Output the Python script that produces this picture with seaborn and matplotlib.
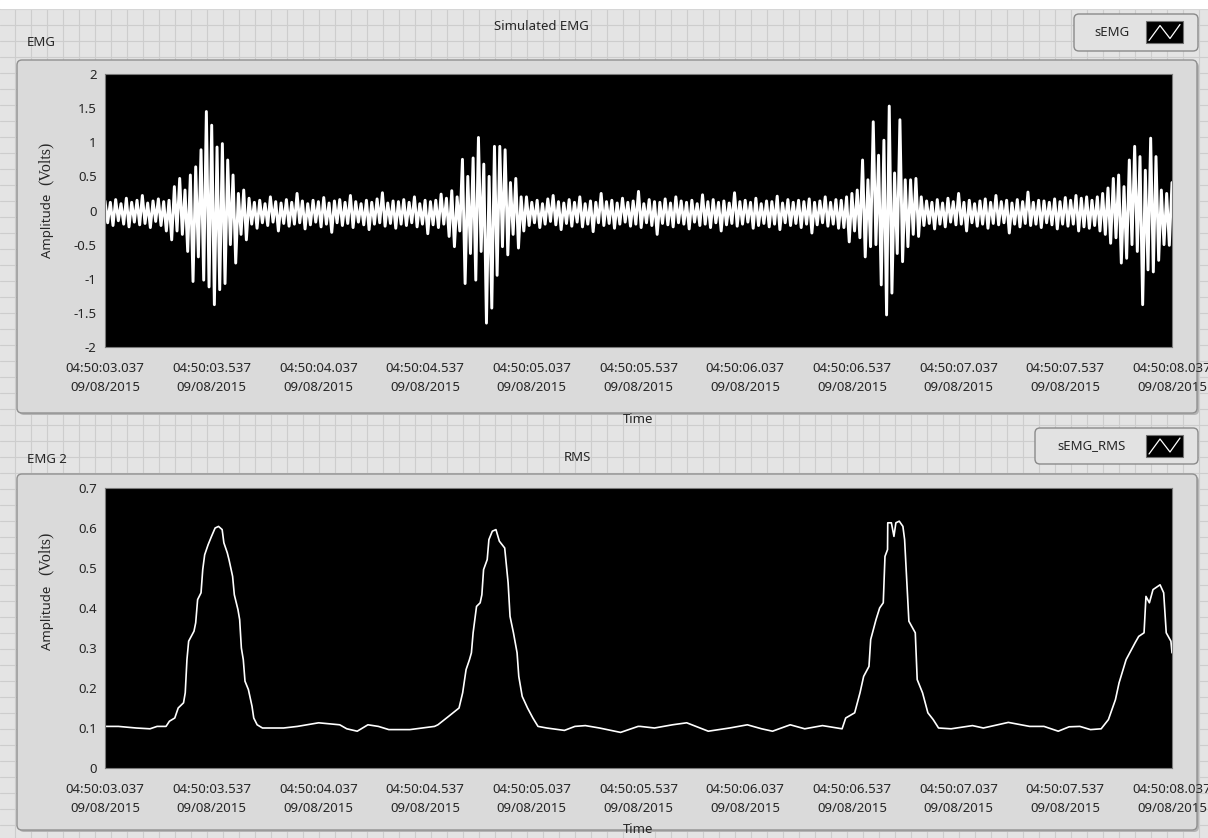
"""LabVIEW-style EMG / RMS front panel, redrawn with seaborn"""

import numpy as np
import pandas as pd
import matplotlib
matplotlib.use("Agg")
import matplotlib.pyplot as plt
from matplotlib.patches import FancyBboxPatch, Rectangle
import seaborn as sns

# ---- data ----
dt = 0.0125  # seconds between EMG samples

emg_rest_0 = [0.14, -0.18, 0.12, -0.22, 0.16, -0.15, 0.1, -0.2, 0.18, -0.24,
              0.12, -0.17, 0.15, -0.21, 0.22, -0.19, 0.11, -0.25, 0.14, -0.16,
              0.17, -0.22, 0.13, -0.3]
emg_burst_1 = [0.15, -0.43, 0.35, -0.3, 0.47, -0.35, 0.3, -0.6, 0.52, -1.04,
               0.64, -0.68, 0.89, -1.02, 1.45, -1.12, 1.25, -1.38, 0.93, -1.16,
               0.98, -1.07, 0.74, -0.5, 0.52, -0.77, 0.25, -0.35, 0.3, -0.43,
               0.18]
emg_rest_1 = [-0.2, 0.12, -0.26, 0.15, -0.18, 0.1, -0.22, 0.2, -0.17, 0.13,
              -0.3, 0.11, -0.19, 0.16, -0.23, 0.12, -0.2, 0.25, -0.18, 0.14,
              -0.27, 0.1, -0.21, 0.15, -0.17, 0.13, -0.24, 0.19, -0.2, 0.11,
              -0.32, 0.14, -0.18, 0.16, -0.22, 0.12, -0.19, 0.22, -0.25, 0.13,
              -0.17, 0.1, -0.21, 0.15, -0.28, 0.12, -0.2, 0.17, -0.18, 0.26,
              -0.23, 0.11, -0.19, 0.14, -0.26, 0.13, -0.2, 0.16, -0.22, 0.12,
              -0.18, 0.2, -0.24, 0.1, -0.2, 0.15, -0.34, 0.13, -0.21]
emg_burst_2 = [0.15, -0.25, 0.24, -0.2, 0.18, -0.38, 0.29, -0.53, 0.2, -0.3,
               0.75, -1.07, 0.5, -0.63, 0.77, -1.02, 1.07, -0.6, 0.68, -1.65,
               0.5, -1.43, 0.94, -0.95, 0.94, -0.53, 0.89, -0.65, 0.41, -0.35,
               0.47, -0.55, 0.2, -0.3, 0.2]
emg_rest_2 = [-0.22, 0.12, -0.18, 0.15, -0.25, 0.1, -0.2, 0.17, -0.16, 0.22,
              -0.21, 0.13, -0.28, 0.11, -0.19, 0.16, -0.23, 0.12, -0.17, 0.2,
              -0.24, 0.1, -0.2, 0.14, -0.31, 0.12, -0.18, 0.25, -0.22, 0.13,
              -0.19, 0.15, -0.26, 0.11, -0.2, 0.18, -0.17, 0.12, -0.23, 0.14,
              -0.2, 0.28, -0.25, 0.1, -0.18, 0.16, -0.22, 0.13, -0.35, 0.12,
              -0.19, 0.17, -0.21, 0.11, -0.24, 0.2, -0.18, 0.14, -0.2, 0.12,
              -0.27, 0.15, -0.17, 0.1, -0.22, 0.23, -0.2, 0.13, -0.25, 0.16,
              -0.18, 0.12, -0.3, 0.14, -0.21, 0.11, -0.19, 0.26, -0.23, 0.13,
              -0.2, 0.15, -0.17, 0.12, -0.26, 0.18, -0.22, 0.1, -0.19, 0.14,
              -0.24, 0.13, -0.2, 0.21, -0.28, 0.11, -0.18, 0.16, -0.22, 0.12,
              -0.19, 0.15, -0.25, 0.13, -0.2, 0.17, -0.33, 0.12, -0.21, 0.14,
              -0.18, 0.2, -0.23, 0.12, -0.2, 0.16, -0.26]
emg_burst_3 = [0.15, -0.25, 0.2, -0.46, 0.25, -0.3, 0.3, -0.4, 0.74, -0.68,
               0.45, -0.53, 1.30, -0.5, 0.81, -1.09, 1.03, -1.53, 1.53, -1.21,
               0.55, -0.63, 1.33, -0.75, 0.45, -0.53, 0.45, -0.35, 0.47, -0.38,
               0.2]
emg_rest_3 = [-0.22, 0.14, -0.19, 0.12, -0.27, 0.16, -0.2, 0.11, -0.24, 0.18,
              -0.17, 0.13, -0.21, 0.25, -0.2, 0.12, -0.3, 0.15, -0.18, 0.1,
              -0.23, 0.14, -0.2, 0.17, -0.26, 0.12, -0.19, 0.22, -0.21, 0.13,
              -0.18, 0.15, -0.33, 0.11, -0.2, 0.16, -0.24, 0.13, -0.19, 0.27,
              -0.22, 0.12, -0.2, 0.15, -0.25, 0.14, -0.18, 0.12, -0.21, 0.17,
              -0.27, 0.13, -0.2, 0.19, -0.23, 0.15, -0.2, 0.22, -0.3, 0.18,
              -0.24, 0.2, -0.26]
emg_burst_4 = [0.15, -0.22, 0.2, -0.3, 0.25, -0.35, 0.33, -0.48, 0.47, -0.4,
               0.52, -0.77, 0.35, -0.70, 0.74, -0.5, 0.94, -0.60, 0.79, -1.38,
               0.59, -0.87, 1.06, -0.90, 0.79, -0.73, 0.3, -0.5, 0.25, -0.51,
               0.41]

# RMS envelope (time in s from 04:50:03.037, amplitude in V)
rms_t = [0.0, 0.063, 0.146, 0.211, 0.244, 0.286, 0.302, 0.327, 0.343, 0.368,
         0.376, 0.384, 0.392, 0.417, 0.425, 0.434, 0.450, 0.458, 0.467, 0.483,
         0.499, 0.516, 0.532, 0.549, 0.557, 0.573, 0.581, 0.598, 0.606, 0.623,
         0.631, 0.639, 0.648, 0.656, 0.672, 0.689, 0.697, 0.713, 0.738, 0.837,
         0.902, 1.001, 1.100, 1.133, 1.182, 1.232, 1.281, 1.330, 1.429, 1.544,
         1.560, 1.610, 1.659, 1.676, 1.692, 1.708, 1.717, 1.725, 1.741, 1.758,
         1.766, 1.774, 1.791, 1.799, 1.815, 1.832, 1.848, 1.873, 1.889, 1.898,
         1.914, 1.931, 1.939, 1.955, 1.980, 2.005, 2.029, 2.070, 2.153, 2.202,
         2.251, 2.317, 2.416, 2.498, 2.508, 2.575, 2.659, 2.726, 2.827, 2.927,
         3.010, 3.077, 3.128, 3.211, 3.279, 3.362, 3.454, 3.471, 3.513, 3.538,
         3.555, 3.580, 3.588, 3.613, 3.630, 3.647, 3.655, 3.667, 3.668, 3.685,
         3.697, 3.706, 3.722, 3.739, 3.747, 3.756, 3.767, 3.797, 3.806, 3.831,
         3.856, 3.881, 3.906, 3.965, 4.065, 4.116, 4.233, 4.333, 4.400, 4.467,
         4.518, 4.568, 4.618, 4.668, 4.702, 4.735, 4.752, 4.785, 4.802, 4.827,
         4.844, 4.869, 4.878, 4.894, 4.911, 4.944, 4.961, 4.973, 4.995, 5.0]
rms_v = [0.104, 0.104, 0.100, 0.098, 0.104, 0.104, 0.117, 0.125, 0.150, 0.163,
         0.188, 0.271, 0.317, 0.342, 0.363, 0.421, 0.438, 0.496, 0.533, 0.558,
         0.579, 0.600, 0.604, 0.596, 0.563, 0.538, 0.521, 0.479, 0.433, 0.396,
         0.371, 0.300, 0.271, 0.217, 0.196, 0.154, 0.125, 0.108, 0.100, 0.100,
         0.104, 0.113, 0.108, 0.098, 0.092, 0.108, 0.104, 0.096, 0.096, 0.104,
         0.108, 0.129, 0.150, 0.188, 0.246, 0.271, 0.288, 0.338, 0.404, 0.413,
         0.433, 0.496, 0.521, 0.571, 0.592, 0.596, 0.567, 0.550, 0.463, 0.379,
         0.338, 0.288, 0.229, 0.179, 0.150, 0.125, 0.104, 0.100, 0.094, 0.104,
         0.106, 0.100, 0.089, 0.104, 0.104, 0.100, 0.108, 0.113, 0.092, 0.100,
         0.108, 0.098, 0.092, 0.108, 0.098, 0.106, 0.098, 0.125, 0.138, 0.188,
         0.229, 0.254, 0.321, 0.371, 0.400, 0.413, 0.529, 0.546, 0.613, 0.613,
         0.579, 0.613, 0.617, 0.604, 0.571, 0.479, 0.367, 0.338, 0.221, 0.188,
         0.138, 0.121, 0.100, 0.098, 0.106, 0.100, 0.114, 0.104, 0.104, 0.092,
         0.103, 0.104, 0.096, 0.098, 0.121, 0.171, 0.213, 0.271, 0.288, 0.313,
         0.329, 0.338, 0.429, 0.413, 0.446, 0.458, 0.438, 0.338, 0.317, 0.288]

tick_times = ["04:50:03.037", "04:50:03.537", "04:50:04.037", "04:50:04.537",
              "04:50:05.037", "04:50:05.537", "04:50:06.037", "04:50:06.537",
              "04:50:07.037", "04:50:07.537", "04:50:08.037"]
tick_date = "09/08/2015"
emg_yticks = [2, 1.5, 1, 0.5, 0, -0.5, -1, -1.5, -2]
rms_yticks = [0, 0.1, 0.2, 0.3, 0.4, 0.5, 0.6, 0.7]

emg = (emg_rest_0 + emg_burst_1 + emg_rest_1 + emg_burst_2 + emg_rest_2
       + emg_burst_3 + emg_rest_3 + emg_burst_4)
emg_df = pd.DataFrame({"t": np.arange(len(emg)) * dt, "v": emg})
rms_df = pd.DataFrame({"t": rms_t, "v": rms_v})

# ---- style ----
sns.set_style("white")
plt.rcParams["font.family"] = ["Noto Sans", "DejaVu Sans"]
TXT = "#262626"
W, H = 1208, 838

fig = plt.figure(figsize=(W / 100, H / 100), dpi=100)

# LabVIEW front panel background (pixel coordinates)
bg = fig.add_axes([0, 0, 1, 1], zorder=0)
bg.set_xlim(0, W)
bg.set_ylim(H, 0)
bg.axis("off")
bg.add_patch(Rectangle((0, 0), W, H, color="#e4e4e4", zorder=0))
for gx in range(15, W, 16):
    bg.plot([gx, gx], [8, H], color="#cdcdcd", lw=0.8, zorder=1)
for gy in range(9, H, 16):
    bg.plot([0, W], [gy, gy], color="#cdcdcd", lw=0.8, zorder=1)
bg.add_patch(Rectangle((0, 0), W, 8, color="white", zorder=1))

# graph frames
for (x0, y0, w, h) in [(17, 60, 1180, 353), (17, 474, 1180, 356)]:
    bg.add_patch(FancyBboxPatch((x0 + 2, y0 + 2), w, h,
                                boxstyle="round,pad=0,rounding_size=5",
                                fc="#b4b4b4", ec="none", zorder=2))
    bg.add_patch(FancyBboxPatch((x0, y0), w, h,
                                boxstyle="round,pad=0,rounding_size=5",
                                fc="#dadada", ec="#909090", lw=1, zorder=3))

# plot legends (top right boxes)
for (x0, y0, w, h, label, tx) in [(1074, 14, 124, 37, "sEMG", 1112),
                                   (1035, 428, 163, 36, "sEMG_RMS", 1092)]:
    bg.add_patch(FancyBboxPatch((x0, y0), w, h,
                                boxstyle="round,pad=0,rounding_size=5",
                                fc="#e2e2e2", ec="#8a8a8a", lw=1, zorder=3))
    bg.text(tx, y0 + h / 2, label, ha="center", va="center", fontsize=9.5,
            color=TXT, zorder=4)
    iy = y0 + h / 2
    bg.add_patch(Rectangle((1146, iy - 11), 37, 22, fc="black", ec="#707070",
                           lw=0.8, zorder=4))
    bg.plot([1149, 1160, 1170, 1180], [iy + 8, iy - 7, iy + 6, iy - 8],
            color="white", lw=0.9, zorder=5)

# captions and graph titles
bg.text(27, 43, "EMG", ha="left", va="center", fontsize=9.5, color=TXT, zorder=4)
bg.text(27, 459, "EMG 2", ha="left", va="center", fontsize=9.5, color=TXT, zorder=4)
bg.text(541, 27, "Simulated EMG", ha="center", va="center", fontsize=9.5,
        color=TXT, zorder=4)
bg.text(577, 457, "RMS", ha="center", va="center", fontsize=9.5, color=TXT,
        zorder=4)

# y-axis titles: sans "Amplitude" + serif "(Volts)"
for (ya, yv) in [(226, 163), (618, 553)]:
    bg.text(47, ya, "Amplitude", rotation=90, ha="center", va="center",
            fontsize=9.5, color=TXT, zorder=4)
    bg.text(46, yv, "(Volts)", rotation=90, ha="center", va="center",
            fontsize=11.5, color=TXT, family="Liberation Serif", zorder=4)

# ---- graphs ----
ax1 = fig.add_axes([105 / W, 1 - 347 / H, 1067 / W, 273 / H], zorder=2)
ax2 = fig.add_axes([105 / W, 1 - 768 / H, 1067 / W, 280 / H], zorder=2)

sns.lineplot(data=emg_df, x="t", y="v", ax=ax1, color="white", lw=2.1,
             estimator=None, sort=False)
sns.lineplot(data=rms_df, x="t", y="v", ax=ax2, color="white", lw=1.2,
             estimator=None, sort=False)

xticks = np.arange(len(tick_times)) * 0.5
xlabels = [f"{tt}\n{tick_date}" for tt in tick_times]

for ax, yt, ylim, lab_y in [(ax1, emg_yticks, (-2, 2), -0.24),
                            (ax2, rms_yticks, (0, 0.7), -0.195)]:
    ax.set_facecolor("black")
    ax.set_xlim(0, 5)
    ax.set_ylim(*ylim)
    ax.set_yticks(yt)
    ax.set_yticklabels([f"{v:g}" for v in yt])
    ax.set_xticks(xticks)
    ax.set_xticklabels(xlabels)
    for lbl in ax.get_xticklabels():
        lbl.set_linespacing(1.55)
    ax.tick_params(axis="both", labelsize=9.5, labelcolor=TXT, color="#505050",
                   length=5, width=1, direction="out")
    ax.tick_params(axis="x", pad=6)
    ax.tick_params(axis="y", pad=1)
    for s in ax.spines.values():
        s.set_color("#7a7a7a")
        s.set_linewidth(0.8)
    ax.set_ylabel("")
    ax.set_xlabel("Time", fontsize=9.5, color=TXT)
    ax.xaxis.set_label_coords(0.5, lab_y)

fig.savefig("out.png", dpi=100)
